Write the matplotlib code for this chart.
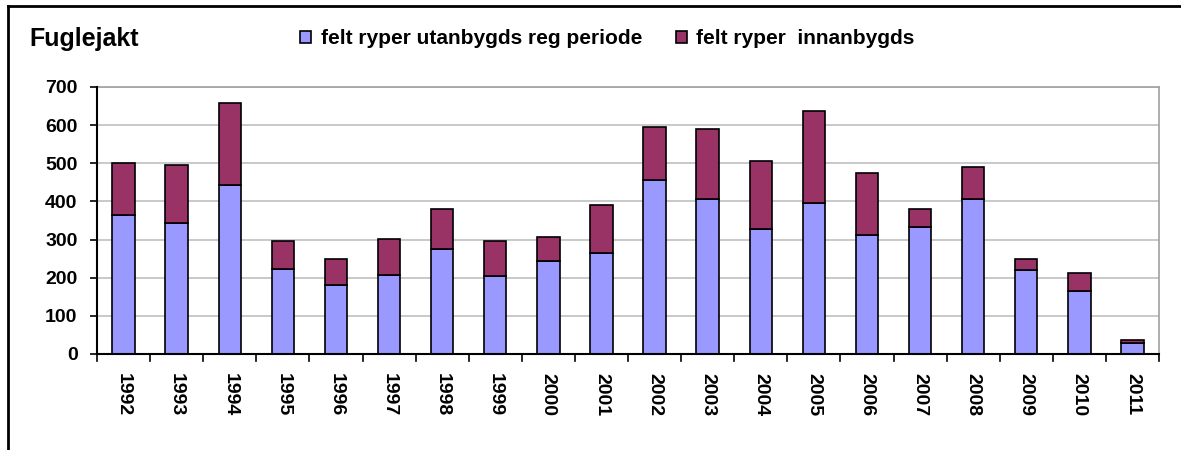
import matplotlib.pyplot as plt
from matplotlib.lines import Line2D

plt.rcParams['font.family'] = ['Liberation Sans', 'DejaVu Sans']
plt.rcParams['font.weight'] = 'bold'

# data
years = [str(y) for y in range(1992, 2012)]
utanbygds = [365, 344, 443, 223, 182, 208, 276, 204, 245, 266,
             455, 407, 329, 396, 313, 334, 407, 219, 166, 30]
innanbygds = [137, 152, 214, 74, 68, 94, 105, 93, 63, 125,
              139, 182, 177, 240, 162, 47, 83, 31, 47, 6]

fig = plt.figure(figsize=(11.81, 4.5), dpi=100)
ax = fig.add_axes([97 / 1181, 96 / 450, (1159 - 97) / 1181, (354 - 87) / 450])

x = range(len(years))
ax.bar(x, utanbygds, width=0.42, color='#9999FF', edgecolor='black',
       linewidth=1.2, label='felt ryper utanbygds reg periode', zorder=3)
ax.bar(x, innanbygds, width=0.42, bottom=utanbygds, color='#993366',
       edgecolor='black', linewidth=1.2, label='felt ryper  innanbygds', zorder=3)

ax.set_xlim(-0.5, len(years) - 0.5)
ax.set_ylim(0, 700)
ax.set_yticks(range(0, 701, 100))
ax.tick_params(axis='y', labelsize=14, direction='out', length=5, width=1.2, pad=9)
ax.set_yticklabels([str(v) for v in range(0, 701, 100)], fontweight='bold')

# category labels at bar centers, tick marks between categories
ax.set_xticks(list(x))
ax.set_xticklabels(years, rotation=-90, fontsize=14, fontweight='bold')
ax.tick_params(axis='x', length=0, pad=14)
for b in range(len(years) + 1):
    ax.plot([b - 0.5, b - 0.5], [0, -0.025], color='black', lw=1.2,
            transform=ax.get_xaxis_transform(), clip_on=False)

ax.grid(axis='y', color='#C0C0C0', linewidth=1.2, zorder=0)
for s in ['top', 'right']:
    ax.spines[s].set_color('#A0A0A0')
    ax.spines[s].set_linewidth(1.2)
for s in ['left', 'bottom']:
    ax.spines[s].set_color('black')
    ax.spines[s].set_linewidth(1.5)
    ax.spines[s].set_zorder(4)

fig.text(29 / 1181, 1 - 39 / 450, 'Fuglejakt', fontsize=18, fontweight='bold',
         va='center', ha='left')
ax.legend(loc='center left', bbox_to_anchor=(300 / 1181, 1 - 39 / 450),
          bbox_transform=fig.transFigure, ncol=2, frameon=False,
          fontsize=15, handlelength=0.55, handleheight=0.55,
          handletextpad=0.45, columnspacing=1.6, borderaxespad=0, borderpad=0)

# outer chart frame (top and left visible)
fig.add_artist(Line2D([8 / 1181, 1], [1 - 6 / 450, 1 - 6 / 450], color='black', lw=2))
fig.add_artist(Line2D([8 / 1181, 8 / 1181], [0, 1 - 6 / 450], color='black', lw=2))

fig.savefig('out.png', dpi=100)
